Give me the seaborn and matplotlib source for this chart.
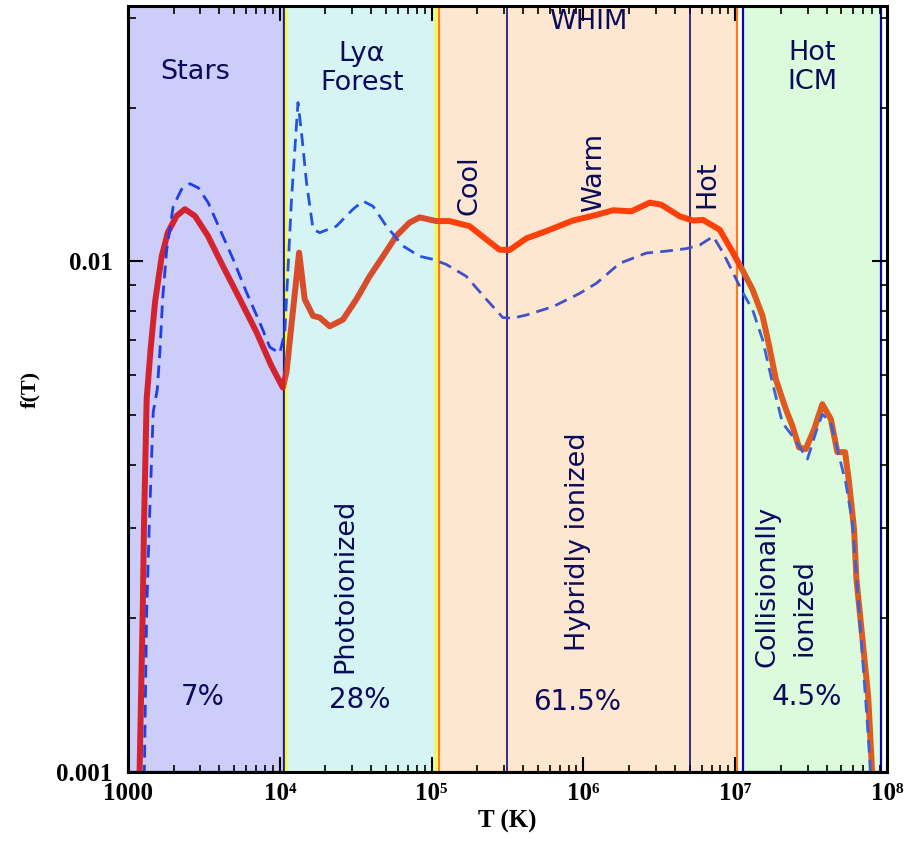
import numpy as np
import pandas as pd
import matplotlib
matplotlib.use("Agg")
import matplotlib.pyplot as plt
import seaborn as sns
from matplotlib.patches import Rectangle
from matplotlib.ticker import FixedLocator, FixedFormatter, NullFormatter

# ---------------- data ----------------
red_T = [1183, 1250, 1274, 1327, 1409, 1507, 1667, 1832, 2089, 2371, 2761, 3357,
         4217, 5458, 7031, 8810, 10470, 11070, 13400, 14590, 16560, 18320, 21330,
         26060, 31990, 39080, 47860, 58610, 71610, 83370, 107400, 131200, 177800,
         229100, 279900, 325800, 420700, 568900, 853100, 1.219e6, 1.567e6, 2.070e6,
         2.735e6, 3.258e6, 4.315e6, 5.272e6, 6.152e6, 7.907e6, 9.705e6, 1.130e7,
         1.300e7, 1.514e7, 1.675e7, 1.854e7, 2.158e7, 2.382e7, 2.636e7, 2.917e7,
         3.311e7, 3.750e7, 4.266e7, 4.710e7, 5.297e7, 5.623e7, 6.067e7, 6.295e7,
         6.966e7, 7.516e7, 7.925e7, 8.091e7]
red_f = [8.91e-4, 2.056e-3, 3.03e-3, 5.37e-3, 6.73e-3, 8.32e-3, 1.023e-2, 1.140e-2,
         1.227e-2, 1.265e-2, 1.227e-2, 1.122e-2, 9.79e-3, 8.43e-3, 7.26e-3, 6.24e-3,
         5.66e-3, 6.07e-3, 1.040e-2, 8.43e-3, 7.82e-3, 7.76e-3, 7.46e-3, 7.69e-3,
         8.43e-3, 9.35e-3, 1.023e-2, 1.122e-2, 1.191e-2, 1.219e-2, 1.199e-2, 1.199e-2,
         1.172e-2, 1.104e-2, 1.054e-2, 1.052e-2, 1.109e-2, 1.146e-2, 1.202e-2, 1.233e-2,
         1.259e-2, 1.253e-2, 1.303e-2, 1.291e-2, 1.225e-2, 1.202e-2, 1.205e-2, 1.153e-2,
         1.038e-2, 9.55e-3, 8.81e-3, 7.82e-3, 6.82e-3, 5.87e-3, 5.13e-3, 4.76e-3,
         4.32e-3, 4.29e-3, 4.69e-3, 5.25e-3, 4.91e-3, 4.23e-3, 4.23e-3, 3.69e-3,
         2.99e-3, 2.38e-3, 1.766e-3, 1.406e-3, 1.042e-3, 8.91e-4]

blue_T = [1274, 1327, 1380, 1466, 1560, 1626, 1690, 1799, 1986, 2254, 2559, 2904,
          3373, 4027, 4932, 6039, 7379, 8590, 10000, 10790, 11350, 11940, 12560,
          13180, 13900, 15000, 16560, 18320, 23600, 30340, 35320, 41110, 50350,
          64710, 83370, 102100, 125000, 169000, 229100, 294400, 342800, 420700,
          629500, 941900, 1.219e6, 1.734e6, 2.594e6, 3.516e6, 4.764e6, 5.834e6,
          7.161e6, 8.337e6, 9.705e6, 1.130e7, 1.300e7, 1.514e7, 1.758e7, 2.046e7,
          2.382e7, 2.992e7, 3.396e7, 3.750e7, 4.266e7, 4.831e7, 5.346e7, 5.916e7,
          6.808e7, 7.345e7, 7.727e7, 7.852e7]
blue_f = [8.91e-4, 2.056e-3, 3.03e-3, 5.07e-3, 5.62e-3, 6.73e-3, 8.43e-3, 1.054e-2,
          1.282e-2, 1.384e-2, 1.419e-2, 1.393e-2, 1.303e-2, 1.156e-2, 1.009e-2,
          8.69e-3, 7.59e-3, 6.79e-3, 6.61e-3, 7.26e-3, 9.79e-3, 1.321e-2, 1.656e-2,
          2.046e-2, 1.786e-2, 1.426e-2, 1.156e-2, 1.138e-2, 1.172e-2, 1.265e-2,
          1.312e-2, 1.282e-2, 1.172e-2, 1.072e-2, 1.023e-2, 1.009e-2, 9.86e-3,
          9.35e-3, 8.43e-3, 7.76e-3, 7.74e-3, 7.85e-3, 8.15e-3, 8.65e-3, 9.06e-3,
          9.91e-3, 1.038e-2, 1.047e-2, 1.059e-2, 1.076e-2, 1.119e-2, 1.038e-2,
          9.48e-3, 8.65e-3, 8.05e-3, 7.03e-3, 5.79e-3, 4.83e-3, 4.55e-3, 4.10e-3,
          4.62e-3, 5.02e-3, 4.83e-3, 4.16e-3, 3.69e-3, 3.08e-3, 1.766e-3, 1.303e-3,
          1.042e-3, 8.91e-4]

band_names = ["Stars", "Lya", "WHIM", "HotICM"]
band_lo = [1.0e3, 1.096e4, 1.122e5, 1.122e7]
band_hi = [1.062e4, 1.072e5, 1.023e7, 9.12e7]
whim_split_T = [3.16e5, 5.0e6]

x_ticks = [1e3, 1e4, 1e5, 1e6, 1e7, 1e8]
x_ticklabels = ["1000", "10\u2074", "10\u2075", "10\u2076", "10\u2077", "10\u2078"]
y_ticks = [1e-3, 1e-2]
y_ticklabels = ["0.001", "0.01"]

# ---------------- styling ----------------
band_face = ["#CDCDF9", "#D7F4F4", "#FDE7D0", "#DCFADC"]
band_edge = ["#1C1C8A", "#FFFF10", "#FF7A1A", "#0A0AA0"]
red_cols = ["#D2232F", "#D84B2B", "#FF3F0A", "#DF5A1E"]
blue_cols = ["#1F3DEB", "#2552E3", "#4252C6", "#3D60D8"]
txt_col = "#0B0B5C"

sns.set_theme(style="white")
plt.rcParams["font.family"] = ["DejaVu Sans"]

fig = plt.figure(figsize=(9.08, 8.43), dpi=100)
ax = fig.add_axes([128 / 908, 1 - 772 / 843, 759 / 908, 766 / 843])
ax.set_xscale("log")
ax.set_yscale("log")
ax.set_xlim(1e3, 1e8)
ax.set_ylim(1e-3, 10 ** -1.5)
ax.set_facecolor("white")

for lo, hi, fc, ec in zip(band_lo, band_hi, band_face, band_edge):
    ax.axvspan(lo, hi, ymin=0.0, ymax=1.0, facecolor=fc, edgecolor=ec, lw=1.6, zorder=0.5)
for t in whim_split_T:
    ax.axvline(t, color="#10106E", lw=1.2, zorder=0.8)

df_red = pd.DataFrame({"T": red_T, "f": red_f})
df_blue = pd.DataFrame({"T": blue_T, "f": blue_f})

clip_edges = [1e2, 1.08e4, 1.10e5, 1.07e7, 1e9]
for i in range(4):
    for df, cols, lw, z, dashed in [(df_red, red_cols, 4.3, 3, False),
                                    (df_blue, blue_cols, 2.0, 4, True)]:
        sns.lineplot(data=df, x="T", y="f", sort=False, estimator=None,
                     color=cols[i], lw=lw, ax=ax, zorder=z)
        ln = ax.lines[-1]
        if dashed:
            ln.set_dashes([4.6, 2.6])
        ln.set_solid_joinstyle("round")
        ln.set_solid_capstyle("round")
        rect = Rectangle((clip_edges[i], 0), clip_edges[i + 1] - clip_edges[i], 1,
                         transform=ax.get_xaxis_transform())
        ln.set_clip_path(rect)

# ---------------- axes decoration ----------------
ax.xaxis.set_major_locator(FixedLocator(x_ticks))
ax.xaxis.set_major_formatter(FixedFormatter(x_ticklabels))
minor_x = [m * 10 ** e for e in range(3, 8) for m in range(2, 10)]
ax.xaxis.set_minor_locator(FixedLocator(minor_x))
ax.xaxis.set_minor_formatter(NullFormatter())
ax.yaxis.set_major_locator(FixedLocator(y_ticks))
ax.yaxis.set_major_formatter(FixedFormatter(y_ticklabels))
minor_y = [m * 10 ** e for e in (-3, -2) for m in range(2, 10)]
ax.yaxis.set_minor_locator(FixedLocator(minor_y))
ax.yaxis.set_minor_formatter(NullFormatter())

ax.tick_params(which="both", direction="in", top=True, right=True, bottom=True,
               left=True, colors="black")
ax.tick_params(which="major", length=10.8, width=1.5)
ax.tick_params(which="minor", length=5.4, width=1.2)
ax.tick_params(axis="x", which="major", pad=7)
ax.tick_params(axis="y", which="major", pad=11)

for lab in ax.get_xticklabels() + ax.get_yticklabels():
    lab.set_fontfamily(["Liberation Serif", "DejaVu Serif"])
    lab.set_fontweight("bold")
    lab.set_fontsize(18)

ax.set_xlabel("T (K)", fontfamily=["Liberation Serif", "DejaVu Serif"], fontweight="bold",
              fontsize=18, labelpad=4, color="black")
ax.set_ylabel("f(T)", fontfamily=["Liberation Serif", "DejaVu Serif"], fontweight="bold",
              fontsize=16, labelpad=12, color="black")

for s in ax.spines.values():
    s.set_color("black")
    s.set_linewidth(2.2)
    s.set_zorder(6)

# ---------------- annotations ----------------
def px(x, y):
    return ((x - 128) / 759, (772 - y) / 766)

def label(x, y, s, rot=0, size=19.5, **kw):
    fx, fy = px(x, y)
    ax.text(fx, fy, s, transform=ax.transAxes, ha="center", va="center",
            rotation=rot, fontsize=size, color=txt_col, zorder=7,
            linespacing=1.15, **kw)

label(195, 72, "Stars")
label(362, 68, "Ly\u03b1\nForest")
label(588, 22, "WHIM")
label(812, 67, "Hot\nICM")
label(470, 185, "Cool", rot=90)
label(594, 172, "Warm", rot=90)
label(707, 184, "Hot", rot=90)
label(345, 586, "Photoionized", rot=90)
label(578, 542, "Hybridly ionized", rot=90)
label(767, 586, "Collisionally", rot=90)
label(805, 608, "ionized", rot=90)
label(203, 697, "7%", size=20)
label(360, 700, "28%", size=20)
label(577, 702, "61.5%", size=20)
label(807, 697, "4.5%", size=20)

fig.savefig("out.png", dpi=100)
